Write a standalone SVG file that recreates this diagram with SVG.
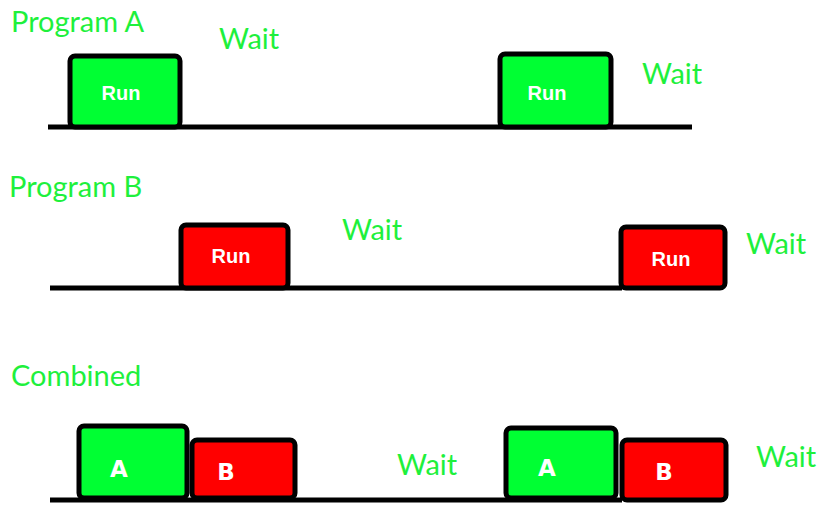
<svg xmlns="http://www.w3.org/2000/svg" width="820" height="505" viewBox="0 0 820 505">
  <style>
    .label { font-family: Lato, "Liberation Sans", sans-serif; font-size: 29px; fill: #1ef03c; }
    .run { font-family: "Liberation Sans", Arial, sans-serif; font-weight: bold; font-size: 20px; fill: #ffffff; text-anchor: middle; }
    .letter { font-family: "DejaVu Sans", sans-serif; font-weight: bold; font-size: 23px; fill: #ffffff; text-anchor: middle; }
    .box { stroke: #000; stroke-width: 5; stroke-linejoin: round; }
    .green { fill: #00ff33; }
    .red { fill: #ff0000; }
    .axis { stroke: #000; stroke-width: 5; fill: none; }
  </style>
  <rect width="820" height="505" fill="#ffffff"/>

  <!-- timelines -->
  <g id="timelines">
    <line class="axis" x1="48" y1="127" x2="692" y2="127"/>
    <line class="axis" x1="50" y1="288" x2="622" y2="288"/>
    <line class="axis" x1="50" y1="500" x2="622" y2="500"/>
  </g>

  <!-- Program A -->
  <text class="label" x="11" y="32">Program A</text>
  <text class="label" x="219" y="49">Wait</text>
  <g id="a-run-1">
    <rect class="box green" x="70" y="56" width="110" height="71" rx="5"/>
    <text class="run" x="121" y="100">Run</text>
  </g>
  <g id="a-run-2">
    <rect class="box green" x="500" y="54" width="111" height="73" rx="5"/>
    <text class="run" x="547" y="100">Run</text>
  </g>
  <text class="label" x="642" y="84">Wait</text>

  <!-- Program B -->
  <text class="label" x="9" y="197">Program B</text>
  <g id="b-run-1">
    <rect class="box red" x="181" y="225" width="107" height="63" rx="5"/>
    <text class="run" x="231" y="263">Run</text>
  </g>
  <text class="label" x="342" y="240">Wait</text>
  <g id="b-run-2">
    <rect class="box red" x="621" y="227" width="104" height="61" rx="5"/>
    <text class="run" x="671" y="266">Run</text>
  </g>
  <text class="label" x="746" y="254">Wait</text>

  <!-- Combined -->
  <text class="label" x="11" y="386">Combined</text>
  <g id="c-a-1">
    <rect class="box green" x="79" y="426" width="108" height="72" rx="5"/>
    <text class="letter" x="119" y="477">A</text>
  </g>
  <g id="c-b-1">
    <rect class="box red" x="192" y="440" width="103" height="58" rx="5"/>
    <text class="letter" x="226" y="480">B</text>
  </g>
  <text class="label" x="397" y="475">Wait</text>
  <g id="c-a-2">
    <rect class="box green" x="506" y="428" width="110" height="70" rx="5"/>
    <text class="letter" x="547" y="476">A</text>
  </g>
  <g id="c-b-2">
    <rect class="box red" x="622" y="440" width="104" height="60" rx="5"/>
    <text class="letter" x="664" y="480">B</text>
  </g>
  <text class="label" x="756" y="467">Wait</text>
</svg>
